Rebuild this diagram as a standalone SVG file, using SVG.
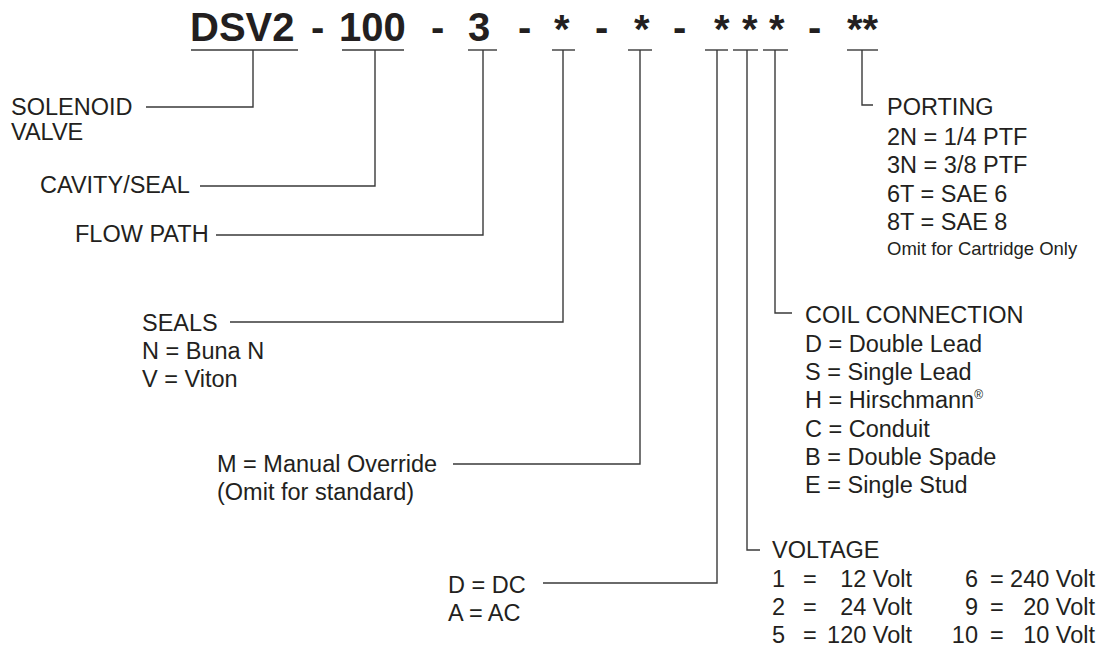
<svg xmlns="http://www.w3.org/2000/svg" width="1102" height="646" viewBox="0 0 1102 646" font-family="'Liberation Sans', Arimo, Arial, Helvetica, sans-serif">
<style>
text{font-family:'Liberation Sans',Arimo,Arial,Helvetica,sans-serif;fill:#231f20}
.t{font-size:40px;font-weight:bold}
.b{font-size:23.5px}
.s{font-size:18.5px}
.e{text-anchor:end}
.ln{fill:none;stroke:#3a3a3a;stroke-width:1.4}
</style>
<rect width="1102" height="646" fill="#fff"/>
<g id="code">
<text class="t" x="190" y="41">DSV2</text>
<text class="t" x="311" y="41">-</text>
<text class="t" x="339" y="41">100</text>
<text class="t" x="431" y="41">-</text>
<text class="t" x="468" y="41">3</text>
<text class="t" x="518" y="41">-</text>
<text class="t" x="554" y="43">*</text>
<text class="t" x="595" y="41">-</text>
<text class="t" x="634" y="43">*</text>
<text class="t" x="673" y="41">-</text>
<text class="t" x="714" y="43">*</text>
<text class="t" x="742" y="43">*</text>
<text class="t" x="769" y="43">*</text>
<text class="t" x="808" y="41">-</text>
<text class="t" x="847" y="43">**</text>
</g>
<g id="connectors" class="ln">
<line x1="191" y1="50" x2="298" y2="50"/>
<line x1="342" y1="50" x2="404" y2="50"/>
<line x1="468" y1="50" x2="497" y2="50"/>
<line x1="552" y1="50" x2="575" y2="50"/>
<line x1="628" y1="50" x2="652" y2="50"/>
<line x1="705" y1="50" x2="728" y2="50"/>
<line x1="733" y1="50" x2="758" y2="50"/>
<line x1="763" y1="50" x2="788" y2="50"/>
<line x1="847" y1="50" x2="878" y2="50"/>
<polyline points="253,50 253,107 146,107"/>
<polyline points="375,50 375,186 200,186"/>
<polyline points="483,50 483,235 216,235"/>
<polyline points="563,50 563,322 230,322"/>
<polyline points="640,50 640,464 453,464"/>
<polyline points="717,50 717,583 543,583"/>
<polyline points="747,50 747,550 760,550"/>
<polyline points="775,50 775,313 792,313"/>
<polyline points="862,50 862,105 873,105"/>
</g>
<g id="solenoid">
<text class="b" x="11" y="115">SOLENOID</text>
<text class="b" x="11" y="140">VALVE</text>
</g>
<g id="cavity"><text class="b" x="40" y="193">CAVITY/SEAL</text></g>
<g id="flowpath"><text class="b" x="75" y="242">FLOW PATH</text></g>
<g id="seals">
<text class="b" x="142" y="331">SEALS</text>
<text class="b" x="142" y="359">N = Buna N</text>
<text class="b" x="142" y="387">V = Viton</text>
</g>
<g id="override">
<text class="b" x="217" y="472">M = Manual Override</text>
<text class="b" x="217" y="500">(Omit for standard)</text>
</g>
<g id="current">
<text class="b" x="448" y="593">D = DC</text>
<text class="b" x="448" y="621">A = AC</text>
</g>
<g id="voltage">
<text class="b" x="772" y="558">VOLTAGE</text>
<text class="b" x="772" y="587">1</text><text class="b" x="803" y="587">=</text><text class="b e" x="912" y="587">12 Volt</text>
<text class="b" x="772" y="615">2</text><text class="b" x="803" y="615">=</text><text class="b e" x="912" y="615">24 Volt</text>
<text class="b" x="772" y="643">5</text><text class="b" x="803" y="643">=</text><text class="b e" x="912" y="643">120 Volt</text>
<text class="b e" x="978" y="587">6</text><text class="b" x="990" y="587">=</text><text class="b e" x="1095" y="587">240 Volt</text>
<text class="b e" x="978" y="615">9</text><text class="b" x="990" y="615">=</text><text class="b e" x="1095" y="615">20 Volt</text>
<text class="b e" x="978" y="643">10</text><text class="b" x="990" y="643">=</text><text class="b e" x="1095" y="643">10 Volt</text>
</g>
<g id="coil">
<text class="b" x="805" y="323">COIL CONNECTION</text>
<text class="b" x="805" y="352">D = Double Lead</text>
<text class="b" x="805" y="380">S = Single Lead</text>
<text class="b" x="805" y="408">H = Hirschmann<tspan font-size="12" dy="-9">®</tspan></text>
<text class="b" x="805" y="437">C = Conduit</text>
<text class="b" x="805" y="465">B = Double Spade</text>
<text class="b" x="805" y="493">E = Single Stud</text>
</g>
<g id="porting">
<text class="b" x="887" y="115">PORTING</text>
<text class="b" x="887" y="145">2N = 1/4 PTF</text>
<text class="b" x="887" y="173">3N = 3/8 PTF</text>
<text class="b" x="887" y="202">6T = SAE 6</text>
<text class="b" x="887" y="230">8T = SAE 8</text>
<text class="s" x="887" y="255">Omit for Cartridge Only</text>
</g>
</svg>
